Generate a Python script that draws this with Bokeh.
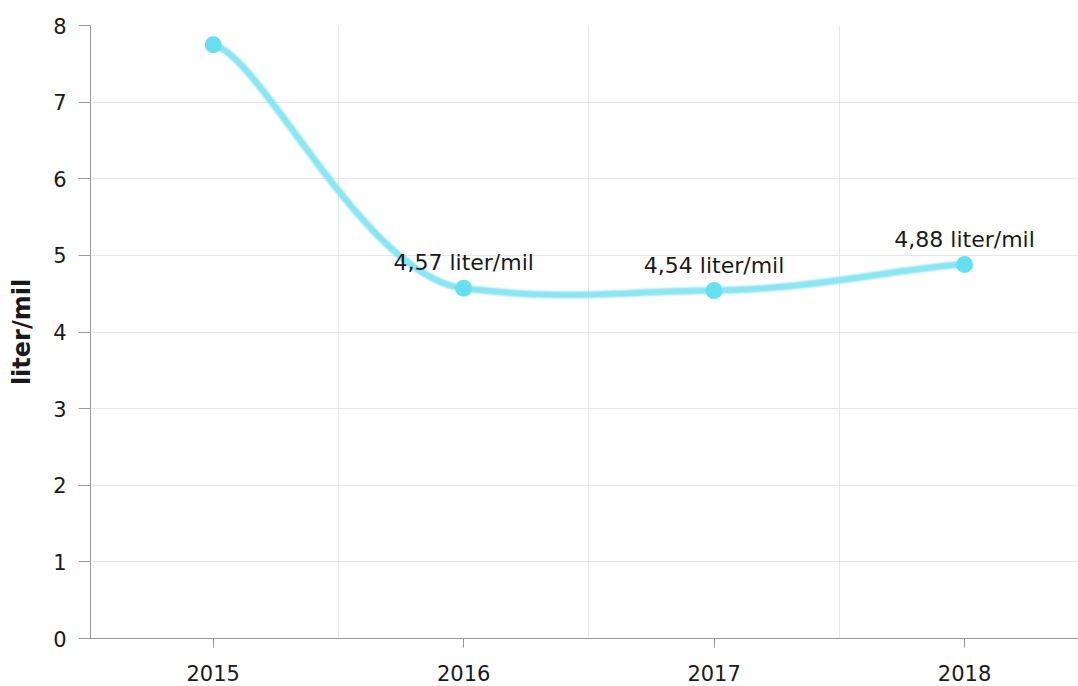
from bokeh.plotting import figure
from bokeh.models import Range1d, FixedTicker, ColumnDataSource
from bokeh.core.properties import value
from bokeh.embed import file_html
from bokeh.resources import INLINE

years = ["2015", "2016", "2017", "2018"]
values = [7.75, 4.57, 4.54, 4.88]
labels = ["", "4,57 liter/mil", "4,54 liter/mil", "4,88 liter/mil"]

xs = list(range(len(years)))

# tension-style smoothing (control points derived from the data points)
def tension_segments(x, y, tension_x=0.8, tension_y=0.95):
    ax_, ay_ = 1 - tension_x, 1 - tension_y
    n = len(x)
    segs = dict(x0=[], y0=[], x1=[], y1=[], cx0=[], cy0=[], cx1=[], cy1=[])
    for i in range(n - 1):
        i0 = max(i - 1, 0)
        i3 = min(i + 2, n - 1)
        p0 = (x[i0], y[i0]); p1 = (x[i], y[i]); p2 = (x[i + 1], y[i + 1]); p3 = (x[i3], y[i3])
        segs["x0"].append(p1[0]); segs["y0"].append(p1[1])
        segs["x1"].append(p2[0]); segs["y1"].append(p2[1])
        segs["cx0"].append(p1[0] + ax_ * (p2[0] - p0[0]))
        segs["cy0"].append(p1[1] + ay_ * (p2[1] - p0[1]))
        segs["cx1"].append(p2[0] - ax_ * (p3[0] - p1[0]))
        segs["cy1"].append(p2[1] - ay_ * (p3[1] - p1[1]))
    return segs

FONT = "DejaVu Sans"
TXT = "#1a1a1a"

p = figure(width=1078, height=686, output_backend="svg", toolbar_location=None,
           x_range=Range1d(-0.49, 3.455), y_range=Range1d(0, 8),
           min_border_left=90, min_border_right=0, min_border_top=25, min_border_bottom=48)
p.outline_line_color = None
p.background_fill_color = "white"

seg_src = ColumnDataSource(tension_segments(xs, values))
for w, a in [(10, 0.15), (8, 0.3), (6.5, 0.55), (5, 0.9)]:
    p.bezier(x0="x0", y0="y0", x1="x1", y1="y1", cx0="cx0", cy0="cy0", cx1="cx1", cy1="cy1",
             source=seg_src, line_color="#8ae4f2", line_width=w, line_alpha=a)

src = ColumnDataSource(dict(x=xs, y=values, label=labels))
p.scatter("x", "y", source=src, size=17, fill_color="#66dff0", line_color=None)
p.text("x", "y", text="label", source=src, text_font=value(FONT),
       text_font_size="22px", text_align="center", text_baseline="bottom",
       y_offset=-13, text_color=TXT)

# axes
p.xaxis.ticker = FixedTicker(ticks=xs)
p.xaxis.major_label_overrides = {i: y for i, y in enumerate(years)}
p.yaxis.ticker = FixedTicker(ticks=list(range(0, 9)))
for ax in (p.xaxis[0], p.yaxis[0]):
    ax.axis_line_color = "#999999"
    ax.major_tick_line_color = "#999999"
    ax.minor_tick_line_color = None
    ax.major_tick_in = 0
    ax.major_label_text_font = FONT
    ax.major_label_text_font_size = "21px"
    ax.major_label_text_color = TXT
p.xaxis.major_tick_out = 9
p.yaxis.major_tick_out = 12
p.xaxis.major_label_standoff = 17
p.yaxis.major_label_standoff = 12
p.yaxis.axis_label = "liter/mil"
p.yaxis.axis_label_text_font = FONT
p.yaxis.axis_label_text_font_size = "24px"
p.yaxis.axis_label_text_font_style = "bold"
p.yaxis.axis_label_text_color = TXT
p.yaxis.axis_label_standoff = 14

p.ygrid.grid_line_color = "#e6e6e6"
p.xgrid.ticker = FixedTicker(ticks=[0.5, 1.5, 2.5])
p.xgrid.grid_line_color = "#e6e6e6"

open("out.html", "w").write(file_html(p, INLINE))
